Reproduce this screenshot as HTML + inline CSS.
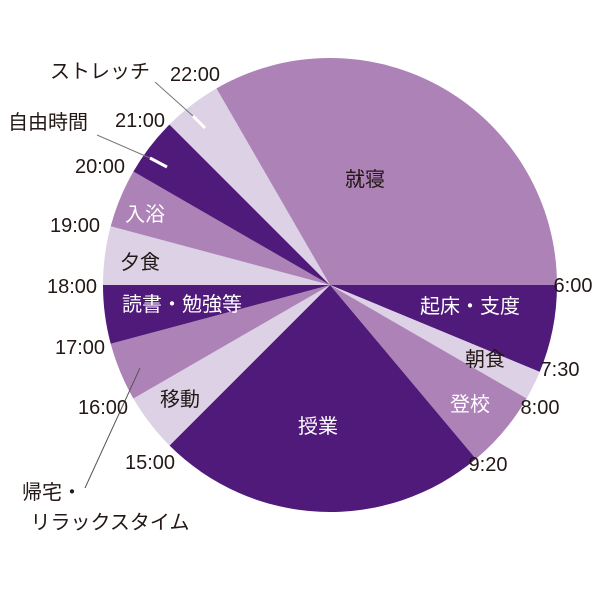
<!DOCTYPE html>
<html><head><meta charset="utf-8"><style>
html,body{margin:0;padding:0;background:#fff;}
text{font-family:"Liberation Sans","Noto Sans CJK JP",sans-serif;font-size:20px;fill:#231815;}
.w{fill:#fff;}
</style></head><body>
<svg width="600" height="600" viewBox="0 0 600 600" xmlns="http://www.w3.org/2000/svg">
<g>
<path d="M330,285L557,285A227,227 0 0 1 539.7,371.9Z" fill="#4f1a7a"/>
<path d="M330,285L539.7,371.9A227,227 0 0 1 526.6,398.5Z" fill="#dcd1e5"/>
<path d="M330,285L526.6,398.5A227,227 0 0 1 475.9,458.9Z" fill="#ad82b7"/>
<path d="M330,285L475.9,458.9A227,227 0 0 1 169.5,445.5Z" fill="#4f1a7a"/>
<path d="M330,285L169.5,445.5A227,227 0 0 1 133.4,398.5Z" fill="#dcd1e5"/>
<path d="M330,285L133.4,398.5A227,227 0 0 1 110.7,343.8Z" fill="#ad82b7"/>
<path d="M330,285L110.7,343.8A227,227 0 0 1 103,285Z" fill="#4f1a7a"/>
<path d="M330,285L103,285A227,227 0 0 1 110.7,226.2Z" fill="#dcd1e5"/>
<path d="M330,285L110.7,226.2A227,227 0 0 1 133.4,171.5Z" fill="#ad82b7"/>
<path d="M330,285L133.4,171.5A227,227 0 0 1 169.5,124.5Z" fill="#4f1a7a"/>
<path d="M330,285L169.5,124.5A227,227 0 0 1 216.5,88.4Z" fill="#dcd1e5"/>
<path d="M330,285L216.5,88.4A227,227 0 0 1 557,285Z" fill="#ad82b7"/>
</g>
<line x1="85" y1="488" x2="140" y2="368" stroke="#555" stroke-width="1"/>
<line x1="155" y1="82" x2="193" y2="116" stroke="#777" stroke-width="1"/>
<line x1="193" y1="116" x2="205" y2="128" stroke="#fff" stroke-width="3"/>
<line x1="97" y1="135" x2="150" y2="158" stroke="#777" stroke-width="1"/>
<line x1="150" y1="158" x2="167" y2="167" stroke="#fff" stroke-width="3"/>
<g text-anchor="middle" dominant-baseline="central">
<text x="365" y="180">就寝</text>
<text x="470" y="307" class="w">起床・支度</text>
<text x="485" y="360">朝食</text>
<text x="470" y="405" class="w">登校</text>
<text x="318" y="427" class="w">授業</text>
<text x="180" y="400">移動</text>
<text x="182" y="305" class="w">読書・勉強等</text>
<text x="140" y="263">夕食</text>
<text x="145" y="215" class="w">入浴</text>
<text x="573" y="286">6:00</text>
<text x="560" y="370">7:30</text>
<text x="540" y="408">8:00</text>
<text x="488" y="465">9:20</text>
<text x="150" y="463">15:00</text>
<text x="103" y="408">16:00</text>
<text x="80" y="348">17:00</text>
<text x="72" y="287">18:00</text>
<text x="75" y="226">19:00</text>
<text x="100" y="167">20:00</text>
<text x="140" y="121">21:00</text>
<text x="195" y="75">22:00</text>
<text x="100" y="72">ストレッチ</text>
<text x="48" y="123">自由時間</text>
<text x="52" y="493">帰宅・</text>
<text x="110" y="523">リラックスタイム</text>
</g>
</svg>
</body></html>
